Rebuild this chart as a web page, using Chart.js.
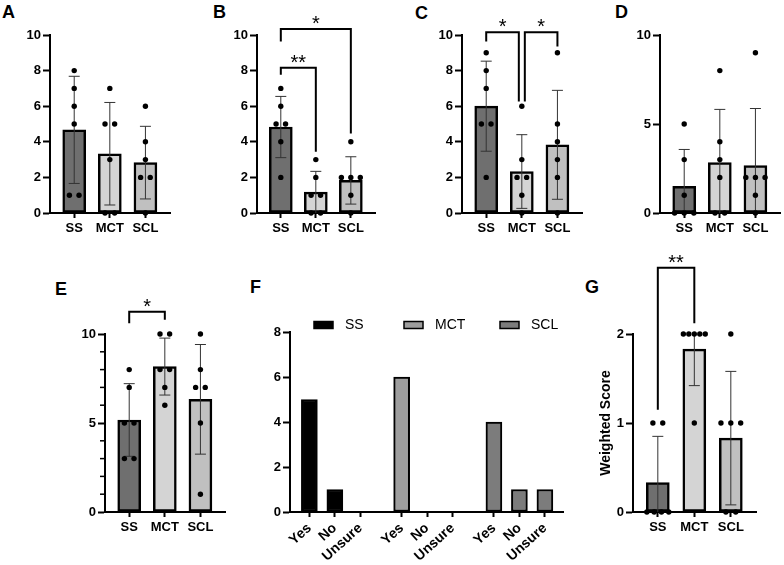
<!DOCTYPE html>
<html>
<head>
<meta charset="utf-8">
<script src="https://cdn.jsdelivr.net/npm/chart.js@4.4.1/dist/chart.umd.min.js"></script>
<style>
  body { margin: 0; background: #fff; width: 784px; height: 565px; overflow: hidden; position: relative; }
  canvas { position: absolute; }
  .tag { position: absolute; font: bold 18px/18px "Liberation Sans", Arial, sans-serif; color: #000; }
</style>
</head>
<body>
<div class="tag" style="left:2px;top:3px">A</div>
<div class="tag" style="left:213px;top:3px">B</div>
<div class="tag" style="left:415px;top:4px">C</div>
<div class="tag" style="left:615px;top:3px">D</div>
<div class="tag" style="left:55px;top:280px">E</div>
<div class="tag" style="left:250px;top:278px">F</div>
<div class="tag" style="left:585px;top:278px">G</div>

<canvas id="chartA"></canvas>
<canvas id="chartB"></canvas>
<canvas id="chartC"></canvas>
<canvas id="chartD"></canvas>
<canvas id="chartE"></canvas>
<canvas id="chartF"></canvas>
<canvas id="chartG"></canvas>

<script>
const groups = ["SS", "MCT", "SCL"];

// individual scores per group (SS, MCT, SCL)
const dotsA = [[8, 7, 6, 5, 1, 1], [7, 5, 5, 3, 0, 0], [6, 4, 3, 2, 2, 0]];
const meanA = [4.67, 3.33, 2.83];
const sdA = [3.01, 2.88, 2.04];

const dotsB = [[7, 6, 5, 5, 4, 2], [3, 2, 1, 1, 0, 0], [4, 2, 2, 2, 1, 0]];
const meanB = [4.83, 1.17, 1.83];
const sdB = [1.72, 1.17, 1.33];

const dotsC = [[9, 8, 7, 5, 5, 2], [6, 3, 2, 2, 1, 0], [9, 5, 4, 3, 2, 0]];
const meanC = [6.0, 2.33, 3.83];
const sdC = [2.53, 2.07, 3.06];

const dotsD = [[5, 3, 1, 0, 0, 0], [8, 4, 3, 2, 0, 0], [9, 2, 2, 2, 1, 0]];
const meanD = [1.5, 2.83, 2.67];
const sdD = [2.07, 2.99, 3.2];

const dotsE = [[8, 7, 5, 5, 3, 3], [10, 10, 8, 8, 7, 6], [10, 8, 7, 7, 5, 1]];
const meanE = [5.17, 8.17, 6.33];
const sdE = [2.04, 1.6, 3.08];

const dotsG = [[1, 1, 0, 0, 0, 0], [2, 2, 2, 2, 2, 1], [2, 1, 1, 1, 0, 0]];
const meanG = [0.33, 1.83, 0.83];
const sdG = [0.52, 0.41, 0.75];

// panel F: answer counts per group
const answers = ["Yes", "No", "Unsure"];
const countsSS = [5, 1, 0];
const countsMCT = [6, 0, 0];
const countsSCL = [4, 1, 1];

// significance brackets: group a -> group b, bracket height and leg ends (data units)
const sigB = [
  { a: 0, b: 1, top: 8.16, ya: 7.76, yb: 3.44, txt: "**" },
  { a: 0, b: 2, top: 10.34, ya: 9.64, yb: 4.47, txt: "*" },
];
const sigC = [
  { a: 0, b: 1, top: 10.15, ya: 9.64, yb: 6.26, txt: "*", nb: -3 },
  { a: 1, b: 2, top: 10.15, ya: 6.26, yb: 9.36, txt: "*", na: 3 },
];
const sigE = [{ a: 0, b: 1, top: 11.25, ya: 10.6, yb: 10.8, txt: "*" }];
const sigG = [{ a: 0, b: 1, top: 2.745, ya: 1.15, yb: 2.12, txt: "**" }];

Chart.defaults.font.family = '"Liberation Sans", Arial, sans-serif';
Chart.defaults.color = "#000";

const barFill = ["#6f6f6f", "#d4d4d4", "#c0c0c0"];
const FONT = '"Liberation Sans", Arial, sans-serif';

// put dots with equal values side by side, the way Prism does
function spread(vals, i) {
  const seen = {};
  return vals.map((v) => {
    const n = vals.filter((w) => w === v).length;
    const k = (seen[v] = (seen[v] || 0) + 1) - 1;
    const sp = n > 1 ? Math.min(0.27, 0.6 / (n - 1)) : 0;
    return { x: i + (k - (n - 1) / 2) * sp, y: v };
  });
}

function place(id, area, pad) {
  const cv = document.getElementById(id);
  cv.width = area.r - area.l + pad.left + pad.right;
  cv.height = area.b - area.t + pad.top + pad.bottom;
  cv.style.left = area.l - pad.left + "px";
  cv.style.top = area.t - pad.top + "px";
  return cv;
}

function yAxis(pad, max, step, extra) {
  return Object.assign({
    min: 0,
    max: max,
    afterFit: (s) => { s.width = pad.left; },
    ticks: { stepSize: step, font: { size: 13, weight: "bold" }, padding: 2, color: "#000" },
    grid: { drawOnChartArea: false, tickLength: 7, tickColor: "#000", tickWidth: 2 },
    border: { color: "#000", width: 2 },
  }, extra || {});
}

function drawSig(chart, sig) {
  const ctx = chart.ctx;
  const x = chart.scales.x;
  const y = chart.scales.y;
  ctx.save();
  ctx.strokeStyle = "#000";
  ctx.lineWidth = 2;
  ctx.fillStyle = "#000";
  ctx.font = "20px " + FONT;
  ctx.textAlign = "center";
  ctx.textBaseline = "alphabetic";
  sig.forEach((s) => {
    const xa = x.getPixelForValue(s.a) + (s.na || 0);
    const xb = x.getPixelForValue(s.b) + (s.nb || 0);
    const yt = y.getPixelForValue(s.top);
    ctx.beginPath();
    ctx.moveTo(xa, y.getPixelForValue(s.ya));
    ctx.lineTo(xa, yt);
    ctx.lineTo(xb, yt);
    ctx.lineTo(xb, y.getPixelForValue(s.yb));
    ctx.stroke();
    ctx.fillText(s.txt, (xa + xb) / 2, yt + 1);
  });
  ctx.restore();
}

function barPanel(id, area, pad, dots, means, sds, yMax, yStep, sig, opts) {
  opts = opts || {};
  const cv = place(id, area, pad);
  const points = dots.flatMap((v, i) => spread(v, i));

  const marks = {
    id: "marks",
    afterDatasetDraw(chart, args) {
      if (args.index !== 0) return;
      const ctx = chart.ctx;
      const y = chart.scales.y;
      ctx.save();
      ctx.strokeStyle = "#333";
      ctx.lineWidth = 1;
      args.meta.data.forEach((bar, i) => {
        const hiV = means[i] + sds[i];
        const loV = means[i] - sds[i];
        const hi = y.getPixelForValue(Math.min(hiV, yMax));
        const lo = y.getPixelForValue(Math.max(loV, 0));
        ctx.beginPath();
        ctx.moveTo(bar.x, hi);
        ctx.lineTo(bar.x, lo);
        if (hiV <= yMax) {
          ctx.moveTo(bar.x - 5.5, hi);
          ctx.lineTo(bar.x + 5.5, hi);
        }
        if (loV > 0.05) {
          ctx.moveTo(bar.x - 5.5, lo);
          ctx.lineTo(bar.x + 5.5, lo);
        }
        ctx.stroke();
      });
      ctx.restore();
    },
    afterDraw(chart) {
      if (opts.minor) {
        const ctx = chart.ctx;
        const y = chart.scales.y;
        const left = chart.chartArea.left;
        ctx.save();
        ctx.strokeStyle = "#000";
        ctx.lineWidth = 1.5;
        for (let v = 1; v < yMax; v++) {
          if (v % yStep === 0) continue;
          const py = y.getPixelForValue(v);
          ctx.beginPath();
          ctx.moveTo(left - 5, py);
          ctx.lineTo(left, py);
          ctx.stroke();
        }
        ctx.restore();
      }
      drawSig(chart, sig);
    },
  };

  new Chart(cv, {
    type: "bar",
    data: {
      datasets: [
        {
          type: "bar",
          data: means.map((m, i) => ({ x: i, y: m })),
          backgroundColor: barFill,
          borderColor: "#000",
          borderWidth: 2.5,
          borderSkipped: false,
          barThickness: 23,
          order: 1,
        },
        {
          type: "scatter",
          data: points,
          backgroundColor: "#000",
          borderWidth: 0,
          pointRadius: 2.7,
          clip: false,
          order: 0,
        },
      ],
    },
    options: {
      responsive: false,
      animation: false,
      devicePixelRatio: 1,
      layout: { padding: { top: pad.top, right: pad.right, left: 0, bottom: 0 } },
      plugins: { legend: { display: false }, tooltip: { enabled: false } },
      scales: {
        x: {
          type: "linear",
          offset: false,
          min: -0.68,
          max: 2.69,
          afterFit: (s) => { s.height = pad.bottom; },
          afterBuildTicks: (s) => { s.ticks = groups.map((g, i) => ({ value: i })); },
          ticks: {
            callback: (v) => groups[v],
            font: { size: 13, weight: "bold" },
            color: "#000",
            padding: 3,
            maxRotation: 0,
            autoSkip: false,
          },
          grid: { offset: false, drawOnChartArea: false, tickLength: 5, tickColor: "#000", tickWidth: 2 },
          border: { color: "#000", width: 2 },
        },
        y: yAxis(pad, yMax, yStep, opts.y),
      },
    },
    plugins: [marks],
  });
}

const padTop = { top: 35, left: 48, right: 10, bottom: 40 };

barPanel("chartA", { l: 50, t: 35, r: 170, b: 213 }, padTop, dotsA, meanA, sdA, 10, 2, []);
barPanel("chartB", { l: 257, t: 35, r: 375, b: 213 }, padTop, dotsB, meanB, sdB, 10, 2, sigB);
barPanel("chartC", { l: 462, t: 35, r: 582, b: 213 }, padTop, dotsC, meanC, sdC, 10, 2, sigC);
barPanel("chartD", { l: 660, t: 35, r: 782, b: 213 }, { top: 35, left: 48, right: 2, bottom: 40 },
  dotsD, meanD, sdD, 10, 5, []);
barPanel("chartE", { l: 105, t: 334, r: 225, b: 512 }, { top: 45, left: 48, right: 10, bottom: 40 },
  dotsE, meanE, sdE, 10, 5, sigE, { minor: true });
barPanel("chartG", { l: 633, t: 334, r: 756, b: 512 }, { top: 90, left: 40, right: 10, bottom: 40 },
  dotsG, meanG, sdG, 2, 1, sigG, {
    y: {
      title: {
        display: true,
        text: "Weighted Score",
        font: { size: 14, weight: "bold" },
        color: "#000",
        padding: { top: 5, bottom: 0 },
      },
    },
  });

// ---- panel F: grouped counts ----
const padF = { top: 20, left: 45, right: 10, bottom: 60 };
const cvF = place("chartF", { l: 290, t: 332, r: 563, b: 512 }, padF);
const fSeries = [
  { name: "SS", counts: countsSS, color: "#000000" },
  { name: "MCT", counts: countsMCT, color: "#9e9e9e" },
  { name: "SCL", counts: countsSCL, color: "#7c7c7c" },
];
const slot = (g, i) => g * 3.62 + i;

const legendF = {
  id: "legendF",
  afterDraw(chart) {
    const ctx = chart.ctx;
    const a = chart.chartArea;
    const xs = [24, 114, 210];
    const cy = a.top - 7;
    ctx.save();
    ctx.font = "14px " + FONT;
    ctx.textBaseline = "middle";
    ctx.textAlign = "left";
    chart.data.datasets.forEach((ds, k) => {
      const bx = a.left + xs[k];
      ctx.fillStyle = ds.backgroundColor;
      ctx.fillRect(bx, cy - 3.5, 19, 7);
      ctx.strokeStyle = "#000";
      ctx.lineWidth = 1.5;
      ctx.strokeRect(bx, cy - 3.5, 19, 7);
      ctx.fillStyle = "#000";
      ctx.fillText(ds.label, bx + 31, cy);
    });
    ctx.restore();
  },
};

new Chart(cvF, {
  type: "bar",
  data: {
    datasets: fSeries.map((s, g) => ({
      label: s.name,
      data: answers.map((ans, i) => ({ x: slot(g, i), y: s.counts[i] })),
      backgroundColor: s.color,
      borderColor: "#000",
      borderWidth: 2,
      borderSkipped: false,
      barThickness: 16,
      grouped: false,
    })),
  },
  options: {
    responsive: false,
    animation: false,
    devicePixelRatio: 1,
    layout: { padding: { top: padF.top, right: padF.right, left: 0, bottom: 0 } },
    plugins: { legend: { display: false }, tooltip: { enabled: false } },
    scales: {
      x: {
        type: "linear",
        offset: false,
        min: -0.76,
        max: 9.95,
        afterFit: (s) => { s.height = padF.bottom; },
        afterBuildTicks: (s) => {
          s.ticks = [];
          fSeries.forEach((ser, g) => answers.forEach((ans, i) => s.ticks.push({ value: slot(g, i) })));
        },
        ticks: {
          callback: (v, i) => answers[i % 3],
          font: { size: 14, weight: "bold" },
          color: "#000",
          padding: 3,
          minRotation: 42,
          maxRotation: 42,
          autoSkip: false,
        },
        grid: { offset: false, drawOnChartArea: false, tickLength: 5, tickColor: "#000", tickWidth: 2 },
        border: { color: "#000", width: 2 },
      },
      y: yAxis(padF, 8, 2),
    },
  },
  plugins: [legendF],
});
</script>
</body>
</html>
